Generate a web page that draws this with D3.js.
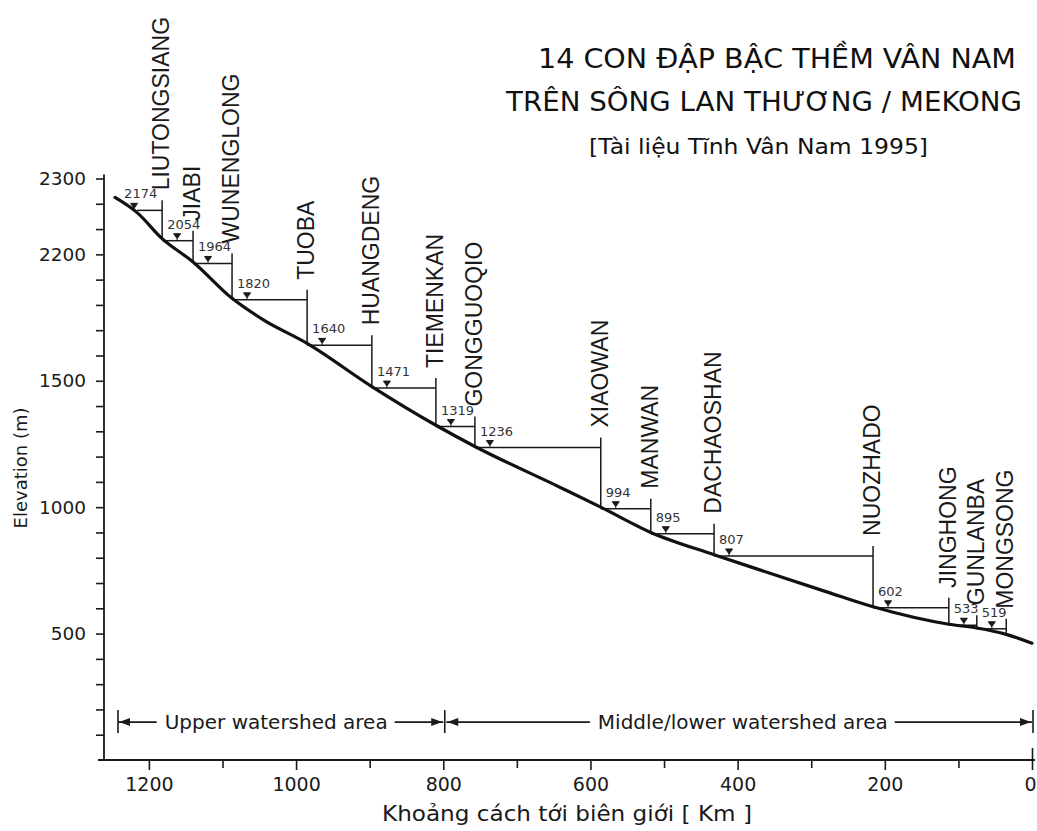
<!DOCTYPE html>
<html><head><meta charset="utf-8">
<script src="https://cdn.jsdelivr.net/npm/d3@7"></script>
<style>
body{margin:0;background:#fff;}
svg{display:block;background:#fff;}
</style></head><body>
<svg id="chart" width="1037" height="831"></svg>
<script>
// ---------- data ----------
const riverKm   = [1246, 1216, 1182, 1140, 1087, 1045, 985, 897, 810, 757, 641, 586, 518, 432, 370, 279, 216, 113, 75, 35, 0];
const riverElev = [2225, 2165, 2062, 1970, 1826, 1742, 1648, 1477, 1324, 1240, 1078, 1000, 900, 812, 752, 665, 606, 537, 522, 497, 462];

const damNames = ["LIUTONGSIANG","JIABI","WUNENGLONG","TUOBA","HUANGDENG","TIEMENKAN","GONGGUOQIO",
                  "XIAOWAN","MANWAN","DACHAOSHAN","NUOZHADO","JINGHONG","GUNLANBA","MONGSONG"];
const damKm    = [1182, 1140, 1087, 985, 897, 810, 757, 586, 518, 432, 216, 113, 75, 35];
const damLevel = [2174, 2054, 1964, 1820, 1640, 1471, 1319, 1236, 994, 895, 807, 602, 533, 519];
const firstReservoirKm = 1216;

const yTickValues = [500, 1000, 1500, 2000, 2300];
const yTickLabels = ["500", "1000", "1500", "2200", "2300"];
const xMajorTicks = [1200, 1000, 800, 600, 400, 200, 0];

const zoneNames = ["Upper watershed area", "Middle/lower watershed area"];
const zoneFrom  = [1242, 800];
const zoneTo    = [800, 0];
const zoneElev  = 150;

const titleLines = ["14 CON ĐẬP BẬC THỀM VÂN NAM", "TRÊN SÔNG LAN THƯƠNG / MEKONG", "[Tài liệu Tĩnh Vân Nam 1995]"];
const xTitle = "Khoảng cách tới biên giới [ Km ]";
const yTitle = "Elevation (m)";

// ---------- layout ----------
const ink = "#1a1a1a";
const svg = d3.select("#chart");
const x = d3.scaleLinear().domain([1261, 0]).range([104, 1032]);
const y = d3.scaleLinear().domain([0, 2300]).range([760, 178.5]);
const riverAt = d3.scaleLinear().domain(riverKm).range(riverElev);
const sans = "'DejaVu Sans', 'Liberation Sans', sans-serif";

// axes
const yAxis = d3.axisLeft(y)
  .tickValues(d3.range(100, 2301, 100))
  .tickSize(8).tickPadding(10)
  .tickFormat(d => { const i = yTickValues.indexOf(d); return i >= 0 ? yTickLabels[i] : ""; });
const gy = svg.append("g").attr("transform", `translate(${x(1261)},0)`).call(yAxis);
gy.select(".domain").remove();
gy.selectAll(".tick line").attr("stroke", ink).attr("stroke-width", 1.6);
gy.selectAll(".tick text").attr("fill", ink).style("font-family", sans).style("font-size", "18.5px");
gy.append("line").attr("x1", 0).attr("x2", 0).attr("y1", y(2300) - 4).attr("y2", y(0))
  .attr("stroke", ink).attr("stroke-width", 1.8);

const xAxis = d3.axisBottom(x)
  .tickValues(d3.range(0, 1201, 100))
  .tickSize(10).tickPadding(8)
  .tickFormat(d => xMajorTicks.includes(d) ? d : "");
const gx = svg.append("g").attr("transform", `translate(0,${y(0)})`).call(xAxis);
gx.select(".domain").remove();
gx.selectAll(".tick line").attr("stroke", ink).attr("stroke-width", 1.6)
  .attr("y1", d => d === 0 ? -12 : 0)
  .attr("y2", d => xMajorTicks.includes(d) ? 10 : 8);
gx.selectAll(".tick text").attr("fill", ink).style("font-family", sans).style("font-size", "19px")
  .attr("dx", d => d === 0 ? -2 : 0);
gx.append("line").attr("x1", x(1261) - 6).attr("x2", x(0) + 3).attr("y1", 0).attr("y2", 0)
  .attr("stroke", ink).attr("stroke-width", 1.8);

// axis titles
svg.append("text").attr("transform", `translate(${27},${468}) rotate(-90)`)
  .attr("text-anchor", "middle").attr("fill", ink)
  .style("font-family", sans).style("font-size", "18px").text(yTitle);
svg.append("text").attr("x", 382).attr("y", 821).attr("fill", ink)
  .attr("textLength", 370).attr("lengthAdjust", "spacingAndGlyphs")
  .style("font-family", sans).style("font-size", "21px").text(xTitle);

// titles
const tpos = [{x: 538, y: 68, w: 478, fs: 27}, {x: 506, y: 111, w: 516, fs: 27}, {x: 589, y: 154, w: 339, fs: 21}];
titleLines.forEach((t, i) => {
  svg.append("text").attr("x", tpos[i].x).attr("y", tpos[i].y).attr("fill", "#111")
    .attr("textLength", tpos[i].w).attr("lengthAdjust", "spacingAndGlyphs")
    .style("font-family", sans).style("font-size", tpos[i].fs + "px")
    .text(t);
});

// dams
const damG = svg.append("g");
damKm.forEach((km, i) => {
  const dx = x(km), ly = y(damLevel[i]);
  const fromKm = i === 0 ? firstReservoirKm : damKm[i - 1];
  const sx = x(fromKm);
  damG.append("line").attr("x1", sx).attr("x2", dx).attr("y1", ly).attr("y2", ly)
    .attr("stroke", ink).attr("stroke-width", 1.5);
  damG.append("line").attr("x1", dx).attr("x2", dx).attr("y1", ly - 10).attr("y2", y(riverAt(km)) + 1)
    .attr("stroke", ink).attr("stroke-width", 1.5);
  const tx = (i === 0 ? sx - 13 : sx + 5);
  const mx = tx + 10;
  damG.append("path").attr("d", `M${mx - 3.5},${ly - 7} L${mx + 3.5},${ly - 7} L${mx},${ly - 2} Z M${mx},${ly - 2} L${mx},${ly}`)
    .attr("fill", ink).attr("stroke", ink).attr("stroke-width", 1);
  damG.append("text").attr("x", tx).attr("y", ly - 12).attr("fill", "#333")
    .style("font-family", sans).style("font-size", "13px").text(damLevel[i]);
  damG.append("text").attr("transform", `translate(${dx + 7},${ly - 20}) rotate(-90)`)
    .attr("fill", ink).style("font-family", "'Liberation Sans', Arial, sans-serif")
    .style("font-size", "23px").text(damNames[i]);
});

// river profile
const river = riverKm.map((k, i) => [k, riverElev[i]]);
svg.append("path").datum(river)
  .attr("d", d3.line().x(d => x(d[0])).y(d => y(d[1])).curve(d3.curveMonotoneX))
  .attr("fill", "none").attr("stroke", "#111").attr("stroke-width", 3.2).attr("stroke-linecap", "round");

// watershed zones
const zy = y(zoneElev);
const zg = svg.append("g");
function arrowHead(xTip, dir) {
  const L = 11, H = 4;
  return `M${xTip},${zy} L${xTip - dir * L},${zy - H} L${xTip - dir * L},${zy + H} Z`;
}
zoneNames.forEach((name, i) => {
  const x0 = x(zoneFrom[i]) + (i === 0 ? 0 : 3), x1 = x(zoneTo[i]);
  const t = zg.append("text").attr("fill", ink).attr("text-anchor", "middle")
    .attr("y", zy + 7).style("font-family", sans).style("font-size", "20px").text(name);
  const cx = i === 0 ? x(1027) : x(393);
  t.attr("x", cx);
  const w = t.node().getComputedTextLength();
  zg.append("line").attr("x1", x0).attr("x2", cx - w / 2 - 8).attr("y1", zy).attr("y2", zy)
    .attr("stroke", ink).attr("stroke-width", 1.6);
  zg.append("line").attr("x1", cx + w / 2 + 7).attr("x2", x1).attr("y1", zy).attr("y2", zy)
    .attr("stroke", ink).attr("stroke-width", 1.6);
  zg.append("path").attr("d", arrowHead(x0 + 1, -1)).attr("fill", ink);
  zg.append("path").attr("d", arrowHead(x1 - 1, 1)).attr("fill", ink);
});
[1242, 800, 0].forEach(k => {
  const off = k === 800 ? 1.5 : k === 0 ? 1 : 0;
  zg.append("line").attr("x1", x(k) + off).attr("x2", x(k) + off)
    .attr("y1", zy - 12).attr("y2", zy + 11).attr("stroke", ink).attr("stroke-width", 1.6);
});
</script>
</body></html>
